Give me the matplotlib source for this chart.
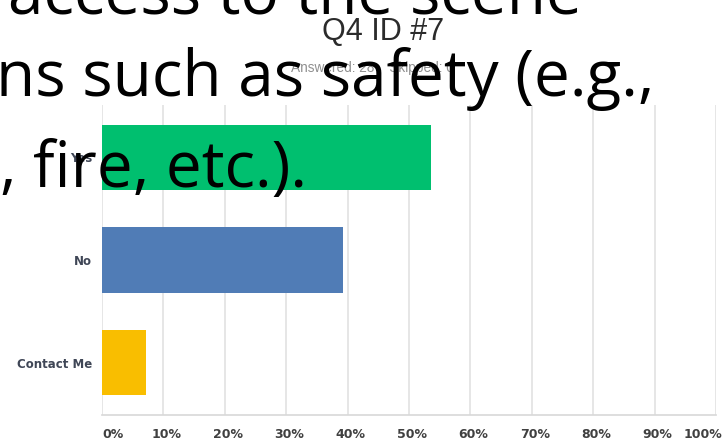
import matplotlib
matplotlib.use("Agg")
import matplotlib.pyplot as plt
from matplotlib.transforms import ScaledTranslation

categories = ["Yes", "No", "Contact Me"]
values = [53.57, 39.29, 7.14]
colors = ["#00BF6F", "#507CB6", "#F9BE00"]
xticks = [0, 10, 20, 30, 40, 50, 60, 70, 80, 90, 100]
xtick_labels = ["0%", "10%", "20%", "30%", "40%", "50%", "60%", "70%", "80%", "90%", "100%"]
title = "Q4 ID #7"
subtitle = "Answered: 28    Skipped: 0"
overlay_lines = ["access to the scene", "ns such as safety (e.g.,", ", fire, etc.)."]

W, H = 727, 441
fig = plt.figure(figsize=(W / 100, H / 100), dpi=100)
fig.patch.set_facecolor("white")

ax = fig.add_axes([102 / W, 1 - 415 / H, (716 - 102) / W, (415 - 105) / H])
ypos = list(range(len(categories)))
ax.barh(ypos, values, height=0.64, color=colors, zorder=3)
ax.set_xlim(0, 100)
ax.set_ylim(2.51, -0.51)
ax.set_yticks(ypos)
ax.set_yticklabels(categories, fontsize=8.5, fontweight="bold", color="#3f4656",
                   family="DejaVu Sans")
ax.set_xticks(xticks)
ax.set_xticklabels(xtick_labels, fontsize=9, fontweight="bold", color="#404040",
                   family="DejaVu Sans")
ax.tick_params(axis="both", length=0)
ax.tick_params(axis="x", pad=9)
ax.tick_params(axis="y", pad=7)
labels = ax.get_xticklabels()
labels[0].set_horizontalalignment("left")
labels[-1].set_horizontalalignment("right")
for lab in labels[1:-1]:
    lab.set_transform(lab.get_transform() + ScaledTranslation(3 / 100, 0, fig.dpi_scale_trans))
labels[-1].set_transform(labels[-1].get_transform() + ScaledTranslation(6 / 100, 0, fig.dpi_scale_trans))
ax.grid(axis="x", color="#e2e2e2", linewidth=1.2, zorder=0)
for s in ["top", "right", "left"]:
    ax.spines[s].set_visible(False)
ax.spines["bottom"].set_color("#d8d8d8")
ax.spines["bottom"].set_linewidth(1.2)

fig.text(383 / W, 1 - 40 / H, title, fontsize=22, color="#2b2b2b",
         ha="center", va="baseline", family="Liberation Sans")
fig.text(372 / W, 1 - 72 / H, subtitle, fontsize=9.8, color="#8f8f8f",
         ha="center", va="baseline", family="Liberation Sans")

fig.text(8 / W, 1 - 14 / H, overlay_lines[0], fontsize=46, color="black",
         ha="left", va="baseline", family="Open Sans", zorder=10)
fig.text(-4 / W, 1 - 96 / H, overlay_lines[1], fontsize=46, color="black",
         ha="left", va="baseline", family="Open Sans", zorder=10)
fig.text(0 / W, 1 - 187 / H, overlay_lines[2], fontsize=46, color="black",
         ha="left", va="baseline", family="Open Sans", zorder=10)

fig.savefig("out.png", dpi=100, facecolor="white")
